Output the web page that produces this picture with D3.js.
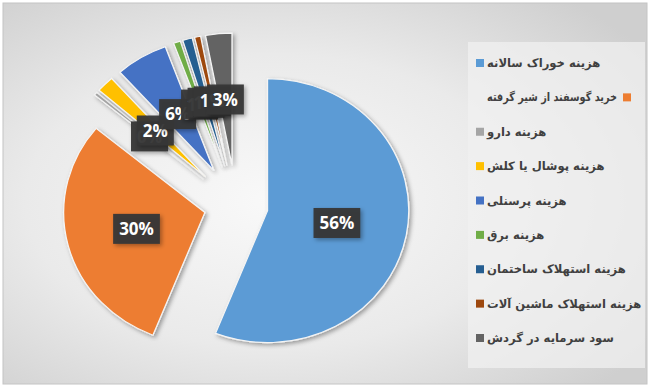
<!DOCTYPE html>
<html>
<head>
<meta charset="utf-8">
<script src="https://cdnjs.cloudflare.com/ajax/libs/d3/7.8.5/d3.min.js"></script>
<style>
  body { margin: 0; background: #fff; }
</style>
</head>
<body>
<div id="chart"></div>
<script>
// categories (legend order = slice order, clockwise from 12 o'clock)
var categories = [
  "هزینه خوراک سالانه",
  "خرید گوسفند از شیر گرفته",
  "هزینه دارو",
  "هزینه پوشال یا کلش",
  "هزینه پرسنلی",
  "هزینه برق",
  "هزینه استهلاک ساختمان",
  "هزینه استهلاک ماشین آلات",
  "سود سرمایه در گردش"
];
// share of total cost, percent
var values = [56, 30, 0.4, 2, 6, 0.8, 1.1, 0.7, 3];
var colors = ["#5b9bd5", "#ed7d31", "#a5a5a5", "#ffc000", "#4472c4",
              "#70ad47", "#255e91", "#9e480e", "#636363"];

var width = 650, height = 389;

var data = categories.map(function(c, i) {
    return { name: c, value: values[i], color: colors[i] };
});

var svg = d3.select("#chart").append("svg")
    .attr("width", width)
    .attr("height", height)
    .style("font-family", "'Open Sans', sans-serif");

var defs = svg.append("defs");
var bg = defs.append("radialGradient")
    .attr("id", "bg")
    .attr("cx", "42%").attr("cy", "52%").attr("r", "70%");
bg.append("stop").attr("offset", "0%").attr("stop-color", "#f9f9f9");
bg.append("stop").attr("offset", "55%").attr("stop-color", "#eaeaea");
bg.append("stop").attr("offset", "100%").attr("stop-color", "#cfcfcf");

var shadow = defs.append("filter").attr("id", "shadow")
    .attr("x", "-20%").attr("y", "-20%").attr("width", "150%").attr("height", "150%");
shadow.append("feDropShadow")
    .attr("dx", 2).attr("dy", 2).attr("stdDeviation", 2)
    .attr("flood-color", "#000").attr("flood-opacity", 0.35);

// chart area
svg.append("rect")
    .attr("x", 3).attr("y", 3)
    .attr("width", width - 6).attr("height", height - 8)
    .attr("fill", "url(#bg)")
    .attr("stroke", "#c4c4c4");

// legend panel
svg.append("rect")
    .attr("x", 468).attr("y", 42)
    .attr("width", 177).attr("height", 326)
    .attr("fill", "#f0f0f0")
    .attr("opacity", 0.75);

// pie
var cx = 236, cy = 205, r = 132, sx = 1.07;

var pie = d3.pie().sort(null).value(function(d) { return d.value; });
var arc = d3.arc().innerRadius(0).outerRadius(r);
var arcs = pie(data);

function explode(d) { return d.data.value >= 10 ? 30 : 40; }
function mid(d) { return (d.startAngle + d.endAngle) / 2; }

var g = svg.append("g")
    .attr("transform", "translate(" + cx + "," + cy + ") scale(" + sx + ",1)");

g.selectAll("path")
    .data(arcs)
  .enter().append("path")
    .attr("transform", function(d) {
        var a = mid(d), e = explode(d);
        return "translate(" + (Math.sin(a) * e) + "," + (-Math.cos(a) * e) + ")";
    })
    .attr("d", arc)
    .attr("fill", function(d) { return d.data.color; })
    .attr("stroke", "#f4f4f4")
    .attr("stroke-width", 1.2)
    .attr("filter", "url(#shadow)");

// data labels, drawn in series order so later ones sit on top
var lg = svg.append("g").attr("transform", "translate(" + cx + "," + cy + ")");

arcs.forEach(function(d) {
    var a = mid(d), dist = explode(d) + r * 0.5;
    var x = Math.sin(a) * dist * sx, y = -Math.cos(a) * dist;
    var lab = lg.append("g").attr("transform", "translate(" + x + "," + y + ")");
    var rect = lab.append("rect")
        .attr("fill", "#363636")
        .attr("fill-opacity", 0.95)
        .attr("filter", "url(#shadow)");
    var t = lab.append("text")
        .attr("text-anchor", "middle")
        .attr("dy", "0.36em")
        .attr("fill", "#fff")
        .style("font-size", "17px")
        .style("font-weight", "bold")
        .text(Math.round(d.data.value) + "%");
    var w = t.node().getComputedTextLength() + 12;
    rect.attr("x", -w / 2).attr("y", -15).attr("width", w).attr("height", 30);
});

// legend
var legend = svg.append("g");
var rowY = d3.scalePoint().domain(d3.range(categories.length)).range([63, 338]);

data.forEach(function(d, i) {
    var y = rowY(i);
    var t = legend.append("text")
        .attr("x", 487)
        .attr("y", y + 4)
        .attr("fill", "#404040")
        .style("font-family", "'DejaVu Sans', sans-serif")
        .style("font-size", "11.6px")
        .style("font-weight", "bold")
        .text(d.name);
    var mx = 476;
    if (i === 1) {
        // this entry has its marker after the text, as in the original
        var tw = t.node().getComputedTextLength();
        if (tw > 130) {
            t.attr("textLength", 130).attr("lengthAdjust", "spacingAndGlyphs");
            tw = 130;
        }
        mx = 487 + tw + 6;
    }
    legend.append("rect")
        .attr("x", mx).attr("y", y - 4)
        .attr("width", 8).attr("height", 8)
        .attr("fill", d.color);
});
</script>
</body>
</html>
